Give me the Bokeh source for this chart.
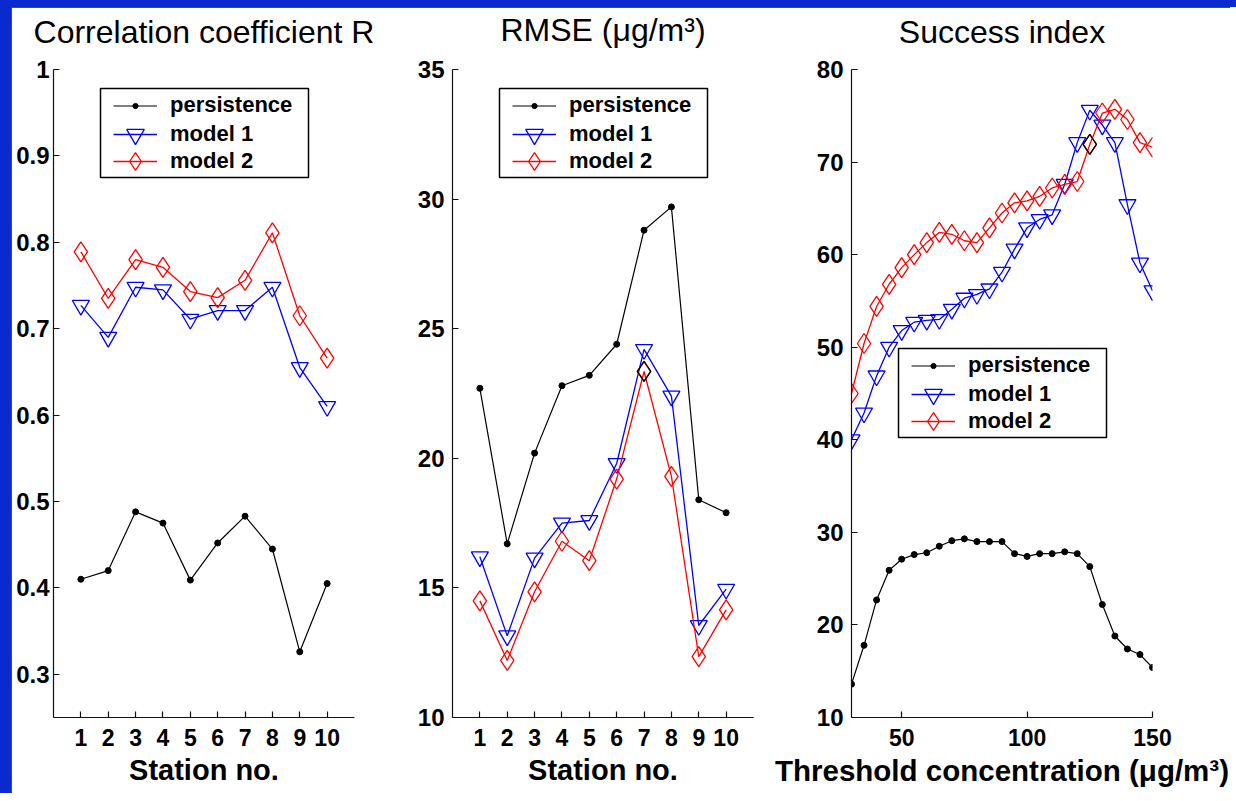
from bokeh.plotting import figure
from bokeh.layouts import row, column
from bokeh.models import (FixedTicker, CustomJSTickFormatter, Legend, LegendItem,
                          Range1d, ColumnDataSource, Spacer, BoxAnnotation, LinearAxis)
from bokeh.embed import file_html
from bokeh.resources import INLINE

# ---------------- data ----------------
stations = [1, 2, 3, 4, 5, 6, 7, 8, 9, 10]

r_persistence = [0.410, 0.420, 0.488, 0.475, 0.409, 0.452, 0.483, 0.445, 0.326, 0.405]
r_model1 = [0.727, 0.690, 0.748, 0.745, 0.711, 0.721, 0.721, 0.748, 0.655, 0.610]
r_model2 = [0.789, 0.735, 0.780, 0.771, 0.743, 0.736, 0.756, 0.811, 0.715, 0.666]

rmse_persistence = [22.7, 16.7, 20.2, 22.8, 23.2, 24.4, 28.8, 29.7, 18.4, 17.9]
rmse_model1 = [16.2, 13.15, 16.15, 17.5, 17.6, 19.8, 24.2, 22.4, 13.55, 14.95]
rmse_model2 = [14.5, 12.2, 14.85, 16.8, 16.05, 19.2, 23.35, 19.3, 12.35, 14.15]

threshold = [30, 35, 40, 45, 50, 55, 60, 65, 70, 75, 80, 85, 90, 95, 100,
             105, 110, 115, 120, 125, 130, 135, 140, 145, 150]
si_persistence = [13.6, 17.8, 22.7, 25.9, 27.1, 27.6, 27.8, 28.5, 29.1, 29.3, 29.0, 29.0, 29.0,
                  27.7, 27.4, 27.7, 27.7, 27.9, 27.7, 26.3, 22.2, 18.8, 17.4, 16.8, 15.4]
si_model1 = [40.0, 42.9, 46.9, 50.0, 51.8, 52.7, 52.9, 53.0, 54.1, 55.3, 55.7, 56.3, 58.1,
             60.6, 62.9, 63.8, 64.3, 67.6, 72.1, 75.6, 74.0, 72.1, 65.4, 59.1, 56.1]
si_model2 = [45.0, 50.4, 54.4, 56.8, 58.6, 60.0, 61.3, 62.4, 62.2, 61.5, 61.3, 62.9, 64.5,
             65.6, 65.8, 66.3, 67.2, 67.6, 67.9, 71.9, 75.3, 75.7, 74.6, 72.1, 71.6]

r_ticks = [0.3, 0.4, 0.5, 0.6, 0.7, 0.8, 0.9, 1.0]
rmse_ticks = [10, 15, 20, 25, 30, 35]
si_ticks = [10, 20, 30, 40, 50, 60, 70, 80]
threshold_ticks = [50, 100, 150]

series_names = ["persistence", "model 1", "model 2"]

# index of the model-2 point that is drawn in black in the original
rmse_black_idx = 6
si_black_idx = 19

FONT = "Liberation Sans"
BLUE = "#0000FF"
RED = "#FF0000"
TOP = 60
BOTTOM = 76
FRAME_H = 649
H = TOP + FRAME_H + BOTTOM

# legend box geometry (screen px)
LEG_W, LEG_H = 208, 89
LEG_ROW_CENTERS = [17, 45.5, 73]      # from the top of the legend box
LEG_GLYPH_INSET = 13


def make_panel(title, title_gap, xlabel, xlabel_size, x, pers, m1, m2, xr, yr,
               xticks, yticks, w, left, right, legend_box, black_idx=None, yfmt=None,
               ystandoff=8):
    p = figure(width=w, height=H, x_range=Range1d(*xr), y_range=Range1d(*yr),
               output_backend="svg", toolbar_location=None,
               min_border_left=left, min_border_right=right,
               min_border_top=TOP, min_border_bottom=BOTTOM,
               background_fill_color="white", border_fill_color="white",
               outline_line_color=None)

    p.xgrid.visible = False
    p.ygrid.visible = False

    bx = p.below[0]
    ly = p.left[0]
    for ax in (bx, ly):
        ax.axis_line_color = "#111111"
        ax.axis_line_width = 1.2
        ax.major_tick_line_color = "#111111"
        ax.major_tick_line_width = 1.2
        ax.major_tick_in = 6
        ax.major_tick_out = 0
        ax.minor_tick_line_color = None
        ax.major_label_text_font = FONT
        ax.major_label_text_font_style = "bold"
        ax.major_label_text_color = "black"
    bx.ticker = FixedTicker(ticks=xticks)
    ly.ticker = FixedTicker(ticks=yticks)
    bx.major_label_text_font_size = "23px"
    ly.major_label_text_font_size = "24px"
    bx.major_label_standoff = 11
    ly.major_label_standoff = ystandoff
    if yfmt is not None:
        ly.formatter = yfmt

    bx.axis_label = xlabel
    bx.axis_label_text_font = FONT
    bx.axis_label_text_font_size = xlabel_size
    bx.axis_label_text_font_style = "bold"
    bx.axis_label_text_color = "black"
    bx.axis_label_standoff = 5

    # title: label of a bare axis above the frame
    tax = LinearAxis(ticker=FixedTicker(ticks=[]), axis_label=title)
    tax.axis_line_color = None
    tax.major_tick_line_color = None
    tax.minor_tick_line_color = None
    tax.major_tick_in = 0
    tax.major_tick_out = 0
    tax.minor_tick_in = 0
    tax.minor_tick_out = 0
    tax.major_label_standoff = 0
    tax.axis_label_standoff = title_gap
    tax.axis_label_text_font = FONT
    tax.axis_label_text_font_size = "32px"
    tax.axis_label_text_font_style = "normal"
    tax.axis_label_text_color = "black"
    p.add_layout(tax, "above")

    src = ColumnDataSource(dict(x=x, p=pers, m1=m1, m2=m2))

    lp = p.line("x", "p", source=src, line_color="black", line_width=1.2)
    sp = p.scatter("x", "p", source=src, marker="circle", size=6,
                   fill_color="black", line_color="black")
    l1 = p.line("x", "m1", source=src, line_color=BLUE, line_width=1.3)
    s1 = p.scatter("x", "m1", source=src, marker="inverted_triangle", size=17,
                   fill_color=None, line_color=BLUE, line_width=1.3)
    l2 = p.line("x", "m2", source=src, line_color=RED, line_width=1.3)
    s2 = p.scatter("x", "m2", source=src, marker="diamond", size=20,
                   fill_color=None, line_color=RED, line_width=1.3)
    if black_idx is not None:
        bsrc = ColumnDataSource(dict(x=[x[black_idx]], y=[m2[black_idx]]))
        p.scatter("x", "y", source=bsrc, marker="diamond", size=20,
                  fill_color=None, line_color="black", line_width=1.3)

    # legend frame
    bl, bb = legend_box
    p.add_layout(BoxAnnotation(left=bl, right=bl + LEG_W, bottom=bb, top=bb + LEG_H,
                               left_units="screen", right_units="screen",
                               bottom_units="screen", top_units="screen",
                               fill_color="white", fill_alpha=1.0,
                               line_color="black", line_width=1.5, line_alpha=1.0,
                               line_dash="solid"))

    # one legend per row so each sample marker gets its own size
    entries = [(series_names[0], [lp, sp], 13, 26),
               (series_names[1], [l1, s1], 44, 44),
               (series_names[2], [l2, s2], 44, 44)]
    for (name, rends, gh, rowh), cy in zip(entries, LEG_ROW_CENTERS):
        centre_from_bottom = bb + LEG_H - cy
        lg = Legend(items=[LegendItem(label=name, renderers=rends)],
                    location=(bl + LEG_GLYPH_INSET, centre_from_bottom - rowh / 2))
        lg.label_text_font = FONT
        lg.label_text_font_size = "22px"
        lg.label_text_font_style = "bold"
        lg.label_text_color = "black"
        lg.glyph_width = 44
        lg.glyph_height = gh
        lg.label_height = 13
        lg.label_standoff = 13
        lg.spacing = 0
        lg.padding = 0
        lg.margin = 0
        lg.border_line_color = None
        lg.background_fill_alpha = 0.0
        lg.click_policy = "none"
        p.add_layout(lg, "center")
    return p


rfmt = CustomJSTickFormatter(code="return String(Math.round(tick * 10) / 10);")

p1 = make_panel("Correlation coefficient R", 20, "Station no.", "29px", stations,
                r_persistence, r_model1, r_model2, (0, 11), (0.25, 1.0),
                stations, r_ticks, 395, 41, 53, (47, 540), None, rfmt, ystandoff=4)

p2 = make_panel("RMSE (\u03bcg/m\u00b3)", 22, "Station no.", "29px", stations,
                rmse_persistence, rmse_model1, rmse_model2, (0, 11), (10, 35),
                stations, rmse_ticks, 356, 45, 10, (47, 540), rmse_black_idx)

p3 = make_panel("Success index", 20, "Threshold concentration (\u03bcg/m\u00b3)", "29.5px",
                threshold, si_persistence, si_model1, si_model2, (30, 150), (10, 80),
                threshold_ticks, si_ticks, 467, 88, 78, (47, 280), si_black_idx)

FRAME_BLUE = "#0a2ad0"
top_bar = Spacer(width=1236, height=7, styles={"background-color": FRAME_BLUE})
left_bar = Spacer(width=11, height=H + 1, styles={"background-color": FRAME_BLUE})
red_top = Spacer(width=1219, height=1, styles={"background-color": "#ff0000"})
red_left = Spacer(width=1, height=H, styles={"background-color": "#ff0000"})

layout = column(top_bar,
                row(left_bar,
                    column(red_top, row(red_left, p1, p2, p3, spacing=0), spacing=0),
                    spacing=0),
                spacing=0)

open("out.html", "w").write(file_html(layout, INLINE))
